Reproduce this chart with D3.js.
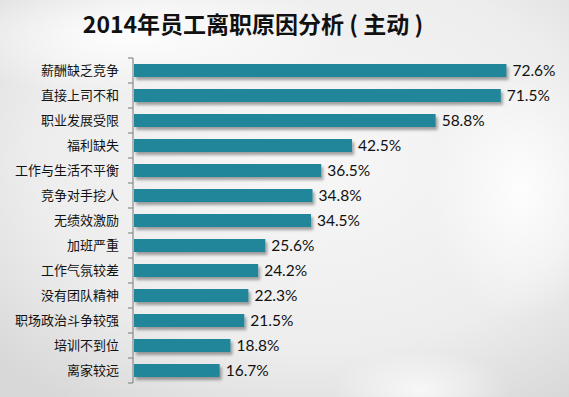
<!DOCTYPE html>
<html>
<head>
<meta charset="utf-8">
<script src="https://cdn.jsdelivr.net/npm/d3@7"></script>
<style>
  html, body { margin: 0; padding: 0; }
  body { width: 569px; height: 397px; overflow: hidden; }
  text { font-family: "Microsoft YaHei", "Noto Sans CJK SC", sans-serif; }
  text.val { font-family: Lato, "Noto Sans", sans-serif; }
</style>
</head>
<body>
<script>
const reasons = ['薪酬缺乏竞争', '直接上司不和', '职业发展受限', '福利缺失', '工作与生活不平衡',
  '竞争对手挖人', '无绩效激励', '加班严重', '工作气氛较差', '没有团队精神',
  '职场政治斗争较强', '培训不到位', '离家较远'];
const rates = [72.6, 71.5, 58.8, 42.5, 36.5, 34.8, 34.5, 25.6, 24.2, 22.3, 21.5, 18.8, 16.7];

const W = 569, H = 397;
const margin = { left: 133, top: 58, right: 25, bottom: 14 };
const plotH = H - margin.top - margin.bottom;

const svg = d3.select('body').append('svg')
  .attr('width', W)
  .attr('height', H);

const defs = svg.append('defs');

/* background: light grey with soft white spots */
const bg = defs.append('radialGradient').attr('id', 'bg')
  .attr('cx', '55%').attr('cy', '40%').attr('r', '75%');
bg.append('stop').attr('offset', '0%').attr('stop-color', '#f7f7f7');
bg.append('stop').attr('offset', '65%').attr('stop-color', '#ededed');
bg.append('stop').attr('offset', '100%').attr('stop-color', '#d8d8d8');

const spot = defs.append('radialGradient').attr('id', 'spot');
spot.append('stop').attr('offset', '0%').attr('stop-color', '#ffffff').attr('stop-opacity', 0.9);
spot.append('stop').attr('offset', '100%').attr('stop-color', '#ffffff').attr('stop-opacity', 0);

const shadow = defs.append('filter').attr('id', 'shadow')
  .attr('x', '-5%').attr('y', '-30%').attr('width', '115%').attr('height', '180%');
shadow.append('feDropShadow')
  .attr('dx', 2).attr('dy', 3).attr('stdDeviation', 1.5)
  .attr('flood-color', '#000').attr('flood-opacity', 0.35);

svg.append('rect').attr('width', W).attr('height', H).attr('fill', 'url(#bg)');
svg.append('ellipse').attr('cx', 130).attr('cy', 35).attr('rx', 220).attr('ry', 60).attr('fill', 'url(#spot)');
svg.append('ellipse').attr('cx', 520).attr('cy', 190).attr('rx', 90).attr('ry', 130).attr('fill', 'url(#spot)');
svg.append('ellipse').attr('cx', 420).attr('cy', 390).attr('rx', 90).attr('ry', 40).attr('fill', 'url(#spot)').attr('opacity', 0.8);

/* title */
svg.append('text')
  .attr('x', 253)
  .attr('y', 33)
  .attr('text-anchor', 'middle')
  .attr('font-size', 23)
  .attr('font-weight', 'bold')
  .attr('fill', '#111')
  .text('2014年员工离职原因分析 ( 主动 )');

const x = d3.scaleLinear()
  .domain([0, 80])
  .range([0, 80 * 5.13]);

const y = d3.scaleBand()
  .domain(reasons)
  .range([0, plotH])
  .paddingInner(0.48)
  .paddingOuter(0.24);

const g = svg.append('g')
  .attr('transform', `translate(${margin.left},${margin.top})`);

/* bars */
g.selectAll('rect.bar')
  .data(reasons)
  .enter().append('rect')
  .attr('class', 'bar')
  .attr('x', 1)
  .attr('y', d => y(d))
  .attr('width', (d, i) => x(rates[i]))
  .attr('height', y.bandwidth())
  .attr('fill', '#22869b')
  .attr('filter', 'url(#shadow)');

/* value labels */
g.selectAll('text.val')
  .data(reasons)
  .enter().append('text')
  .attr('class', 'val')
  .attr('x', (d, i) => x(rates[i]) + 7)
  .attr('y', d => y(d) + y.bandwidth() / 2)
  .attr('dy', '0.36em')
  .attr('font-size', 15.5)
  .attr('fill', '#111')
  .text((d, i) => rates[i].toFixed(1) + '%');

/* category axis: ticks between rows */
const step = y.step();
const axis = g.append('g').attr('class', 'y-axis');
axis.append('line')
  .attr('x1', 0).attr('x2', 0)
  .attr('y1', 0).attr('y2', plotH)
  .attr('stroke', '#8a8a8a').attr('stroke-width', 1.2);
axis.selectAll('line.tick')
  .data(d3.range(reasons.length + 1))
  .enter().append('line')
  .attr('class', 'tick')
  .attr('x1', -5).attr('x2', 0)
  .attr('y1', i => i * step).attr('y2', i => i * step)
  .attr('stroke', '#8a8a8a').attr('stroke-width', 1.2);
axis.selectAll('text.cat')
  .data(reasons)
  .enter().append('text')
  .attr('class', 'cat')
  .attr('x', -14)
  .attr('y', d => y(d) + y.bandwidth() / 2)
  .attr('dy', '0.36em')
  .attr('text-anchor', 'end')
  .attr('font-size', 13)
  .attr('fill', '#111')
  .text(d => d);
</script>
</body>
</html>
